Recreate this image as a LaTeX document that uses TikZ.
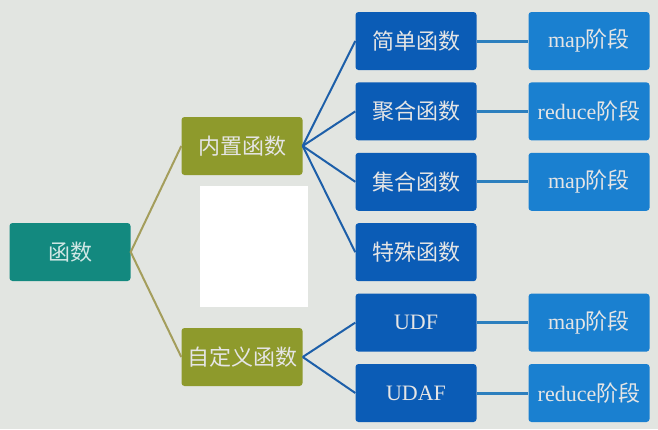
\documentclass[tikz,border=0pt]{standalone}
\usepackage{fontspec}
\setmainfont{Liberation Serif}
\newfontfamily\cjk{Noto Sans CJK SC}
\usepackage{tikz}
\usetikzlibrary{positioning}

\definecolor{bgGray}{HTML}{E2E5E1}
\definecolor{rootTeal}{HTML}{13897F}
\definecolor{midOlive}{HTML}{8E9A2C}
\definecolor{funcBlue}{HTML}{0B5CB6}
\definecolor{stageBlue}{HTML}{1A80D0}
\definecolor{oliveLine}{HTML}{A49E5C}
\definecolor{fanLine}{HTML}{1D5FA9}
\definecolor{stageLine}{HTML}{2C7FBE}

\begin{document}
\begin{tikzpicture}[x=1pt,y=-1pt,node distance=70.4pt,on grid]
  \tikzset{box/.style={rounded corners=3pt,minimum width=121pt,minimum height=58pt,
      inner sep=0pt,font=\fontsize{22}{26}\selectfont,text=white!90!black}}
  \useasboundingbox (0,0) rectangle (658,429);
  \fill[bgGray] (0,0) rectangle (658,429);
  % left part
  \node[box,fill=rootTeal,text=white!80!rootTeal] (fn) at (70,252) {\cjk 函数};
  \node[box,fill=midOlive] (builtin) [above right=106pt and 172pt of fn] {\cjk 内置函数};
  \node[box,fill=midOlive] (custom) [below right=105pt and 172pt of fn] {\cjk 自定义函数};
  \fill[white] (200,186) rectangle (308,307);
  % function column
  \node[box,fill=funcBlue] (simple) [above right=105pt and 174pt of builtin] {\cjk 简单函数};
  \node[box,fill=funcBlue] (aggr) [below=of simple] {\cjk 聚合函数};
  \node[box,fill=funcBlue] (coll) [below=of aggr] {\cjk 集合函数};
  \node[box,fill=funcBlue] (special) [below=of coll] {\cjk 特殊函数};
  \node[box,fill=funcBlue] (udf) [below=of special] {UDF};
  \node[box,fill=funcBlue] (udaf) [below=of udf] {UDAF};
  % stage column
  \node[box,fill=stageBlue] (simple_st) [right=173pt of simple] {map{\cjk 阶段}};
  \node[box,fill=stageBlue] (aggr_st) [right=173pt of aggr] {reduce{\cjk 阶段}};
  \node[box,fill=stageBlue] (coll_st) [right=173pt of coll] {map{\cjk 阶段}};
  \node[box,fill=stageBlue] (udf_st) [right=173pt of udf] {map{\cjk 阶段}};
  \node[box,fill=stageBlue] (udaf_st) [right=173pt of udaf] {reduce{\cjk 阶段}};
  % connectors
  \draw[oliveLine,line width=2pt] (builtin.west) -- (fn.east) -- (custom.west);
  \foreach \t in {simple,aggr,coll,special}
    \draw[fanLine,line width=2pt] (builtin.east) -- (\t.west);
  \foreach \t in {udf,udaf}
    \draw[fanLine,line width=2pt] (custom.east) -- (\t.west);
  \foreach \s in {simple,aggr,coll,udf,udaf}
    \draw[stageLine,line width=3pt] (\s.east) -- (\s_st.west);
\end{tikzpicture}
\end{document}
